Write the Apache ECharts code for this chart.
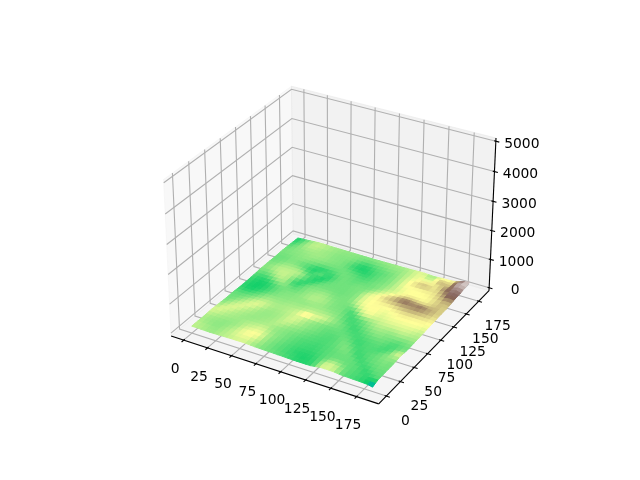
<!DOCTYPE html>
<html><head><meta charset="utf-8">
<style>html,body{margin:0;padding:0;background:#fff}#c{width:640px;height:480px}</style>
<script src="https://cdn.jsdelivr.net/npm/echarts@6/dist/echarts.min.js"></script>
</head><body><div id="c"></div>
<script>
// Relief levels, front edge (y=0) first, x left to right. Elevation in metres = level * 3.2
const relief = [
[43,43,42,41,40,41,42,43,44,45,45,46,45,42,40,38,37,36,35,34,33,31,30,29,29,29,30,36,44,46,45,43,37,34,33,31,30,28,25,14],
[44,43,42,41,40,40,42,43,44,46,47,47,46,43,41,38,37,36,34,33,32,31,30,28,28,29,31,36,45,47,46,43,37,34,33,32,31,29,25,25],
[43,42,41,40,39,40,41,43,45,47,48,49,48,45,42,39,37,35,34,33,31,30,29,28,28,29,31,35,41,45,44,40,36,34,33,32,31,29,31,33],
[42,41,40,39,39,39,41,42,44,47,49,50,50,48,43,39,37,36,34,33,32,30,29,29,29,30,32,34,37,40,39,37,35,34,34,31,29,32,34,35],
[42,41,40,40,39,39,40,41,43,46,48,49,50,48,43,40,38,36,35,33,32,31,31,30,30,31,32,34,35,36,36,35,35,34,33,30,32,34,35,34],
[43,42,41,40,40,39,40,40,42,44,45,46,47,45,42,40,38,37,35,34,33,32,31,31,31,32,33,34,35,35,35,35,35,33,30,32,34,35,36,35],
[45,44,43,42,41,41,40,41,42,43,44,45,46,44,41,39,38,37,36,34,33,32,32,31,31,32,33,34,35,36,36,36,33,30,33,34,35,36,37,36],
[46,46,45,43,42,41,41,40,41,41,42,42,43,42,40,39,38,37,36,35,34,33,33,32,32,33,33,35,36,37,36,33,30,32,33,35,36,37,37,36],
[43,47,46,45,43,42,41,40,40,40,41,41,42,42,41,40,39,38,37,36,35,34,33,33,32,33,34,35,37,38,35,32,31,33,34,35,36,38,38,37],
[41,44,46,47,45,43,42,41,40,40,40,41,41,43,44,42,40,39,39,37,36,35,34,33,33,33,34,36,37,36,33,31,32,33,34,35,37,39,40,39],
[39,41,44,46,47,45,43,42,41,40,40,40,41,42,44,45,43,41,40,38,37,36,35,34,33,33,34,36,36,34,31,32,33,33,32,33,36,38,43,44],
[37,39,42,44,46,47,45,43,41,40,40,40,41,42,44,46,45,43,41,39,38,37,35,34,34,34,35,36,34,32,30,32,33,33,33,31,33,36,47,44],
[36,37,39,42,44,46,48,46,43,41,40,41,41,42,44,46,46,44,41,39,38,37,36,35,35,35,35,34,33,31,32,33,33,34,34,32,32,34,38,40],
[36,36,37,39,42,44,46,47,45,43,41,41,42,43,44,45,47,46,44,42,40,38,37,36,36,35,34,33,31,32,33,34,35,35,35,33,32,33,35,36],
[36,35,36,37,39,42,44,45,44,43,42,42,42,43,44,47,52,56,50,48,46,43,40,38,37,35,33,31,32,33,35,36,37,37,36,35,33,34,36,36],
[35,34,34,35,36,38,40,42,42,41,41,41,42,42,43,43,45,46,45,45,46,43,41,38,36,34,32,30,33,35,37,38,39,38,37,37,36,36,37,38],
[33,31,31,32,34,36,38,40,40,40,40,40,41,41,41,42,43,43,43,42,42,41,39,37,34,32,31,33,35,37,39,40,40,39,39,39,40,39,39,40],
[31,29,28,29,31,33,36,38,38,39,39,39,40,40,40,40,41,41,41,41,40,39,38,36,33,31,33,34,37,39,41,42,42,41,41,42,43,42,42,42],
[30,28,27,27,29,31,33,36,37,38,38,39,39,39,39,40,40,40,40,39,38,38,37,35,32,31,34,36,39,41,43,44,44,44,44,45,45,44,43,42],
[30,28,27,27,28,30,33,35,37,38,38,38,39,40,41,42,41,41,40,38,38,37,37,33,31,36,41,44,44,44,45,46,46,47,47,47,47,46,45,44],
[31,29,27,27,28,30,33,35,36,37,37,38,39,40,42,43,42,42,40,38,37,37,36,33,34,42,47,49,48,46,46,47,48,48,48,48,48,48,47,46],
[32,30,28,28,29,32,35,37,37,36,35,36,38,40,41,42,42,41,39,38,37,37,36,37,42,47,49,50,49,47,48,49,49,49,50,50,50,50,49,48],
[33,31,30,30,33,37,40,40,37,33,34,36,38,39,40,41,41,40,38,37,37,37,38,41,46,49,50,50,50,48,48,49,50,51,51,50,50,50,50,49],
[35,33,33,35,39,42,43,41,33,30,32,35,37,38,38,39,39,38,37,37,37,37,40,45,48,50,50,51,50,49,50,51,52,53,53,53,52,52,52,50],
[37,36,36,39,42,44,44,41,35,30,29,33,36,37,37,37,37,37,36,36,37,37,40,45,48,50,50,51,50,50,52,54,56,58,58,58,57,56,55,52],
[38,38,39,42,44,45,44,42,38,34,30,29,32,35,36,36,36,36,36,36,37,37,40,45,48,50,50,52,54,55,57,60,62,63,64,63,62,60,57,54],
[38,39,41,43,44,44,44,43,41,38,33,29,29,33,35,36,36,36,36,36,37,37,40,45,48,50,52,55,58,60,63,66,67,66,69,70,66,63,60,56],
[38,38,40,42,43,43,43,43,42,36,32,30,27,29,33,35,36,36,36,36,37,37,38,42,46,48,52,56,59,63,68,74,72,68,68,70,64,62,60,56],
[37,37,38,40,41,41,41,40,36,32,31,33,30,28,31,34,36,36,36,36,37,37,37,39,42,45,47,50,54,58,62,64,62,60,58,57,58,60,60,56],
[36,36,37,38,39,39,38,36,33,29,30,35,34,29,31,34,36,36,35,35,36,36,36,37,39,42,45,47,48,51,55,56,55,53,52,53,56,58,60,56],
[35,36,36,37,38,37,36,34,32,29,27,28,29,31,33,36,36,36,35,34,35,35,36,37,38,40,43,45,47,49,50,50,50,50,50,52,56,58,62,58],
[36,36,36,37,38,38,37,36,35,33,32,32,33,34,35,36,36,35,34,33,33,34,36,37,38,40,42,45,47,49,50,50,50,50,51,53,56,60,66,62],
[37,37,37,38,38,39,39,38,38,37,36,36,36,36,36,36,35,34,33,31,32,33,35,36,37,39,42,45,49,50,50,50,50,51,52,55,60,66,74,68],
[37,37,38,38,39,39,40,40,39,39,38,38,37,37,36,35,33,31,30,29,31,33,35,36,37,39,42,45,49,50,51,52,53,54,53,56,62,72,80,72],
[36,37,38,39,39,40,40,41,40,40,39,38,38,37,36,33,30,29,28,29,31,33,34,36,37,39,42,45,49,53,57,60,60,57,54,60,68,76,82,74],
[34,36,38,39,40,41,41,41,41,40,39,38,38,37,36,33,30,28,28,30,32,34,34,36,37,39,42,45,48,50,54,56,55,52,53,62,70,76,86,74],
[32,34,37,40,42,42,42,41,40,40,39,38,38,38,37,35,32,30,30,32,34,35,36,37,38,40,42,44,47,49,50,50,50,53,60,58,64,76,90,82],
[30,32,36,40,43,44,43,42,41,40,39,39,38,38,38,37,35,34,34,35,36,37,38,39,39,40,42,44,46,48,48,44,48,56,64,56,60,84,94,86],
[28,30,34,39,42,44,44,43,42,41,40,39,39,39,38,38,37,37,37,38,38,39,39,40,40,41,42,44,47,48,46,40,46,52,54,50,58,78,90,94],
[28,30,33,37,41,43,43,42,41,40,40,40,39,39,39,38,38,38,38,39,39,40,40,41,41,42,43,45,46,46,44,41,43,46,46,48,54,70,84,92]
];
const xTicks = [0,25,50,75,100,125,150,175];
const yTicks = [0,25,50,75,100,125,150,175];
const zTicks = [0,1000,2000,3000,4000,5000];
const dataExtent = 183;
const metresPerLevel = 3.2;

// axis limits: 5% margin, as in the reference
const viewLo = -0.05*dataExtent, viewHi = 1.05*dataExtent;
const pad = (viewHi-viewLo)/48;
const lo = {x:viewLo-pad, y:viewLo-pad, z:-5000/48};
const hi = {x:viewHi+pad, y:viewHi+pad, z:5000+5000/48};
const delta = {x:(viewHi-viewLo)/12, y:(viewHi-viewLo)/12, z:5000/12};

// 3D projection: elev 30, azim -60, dist 10, box 4:4:3
const nrm = 1.8294640721620434*25/24/Math.sqrt(41);
const box = [4*nrm,4*nrm,3*nrm];
const el = 30*Math.PI/180, az = -60*Math.PI/180, dist = 10;
const n = [Math.cos(el)*Math.cos(az), Math.cos(el)*Math.sin(az), Math.sin(el)];
const E = [box[0]/2+dist*n[0], box[1]/2+dist*n[1], box[2]/2+dist*n[2]];
const uu = [-n[1],n[0],0].map(v=>v/Math.hypot(n[0],n[1]));
const vv = [n[1]*uu[2]-n[2]*uu[1], n[2]*uu[0]-n[0]*uu[2], n[0]*uu[1]-n[1]*uu[0]];
const dot=(a,b)=>a[0]*b[0]+a[1]*b[1]+a[2]*b[2];
function project(x,y,z){
  const p=[(x-lo.x)/(hi.x-lo.x)*box[0]-E[0],(y-lo.y)/(hi.y-lo.y)*box[1]-E[1],(z-lo.z)/(hi.z-lo.z)*box[2]-E[2]];
  const w=-dot(n,p), X=dot(uu,p)/w, Y=dot(vv,p)/w;
  return [143.2+(X+0.095)/0.185*369.6, 480-(52.8+(Y+0.095)/0.185*369.6)];
}

// terrain colormap
const stops=[[0,[51,51,153]],[.15,[0,153,255]],[.25,[0,204,102]],[.5,[255,255,153]],[.75,[128,92,84]],[1,[255,255,255]]];
function terrain(t){
  t=Math.max(0,Math.min(1,t));
  for(let k=1;k<stops.length;k++) if(t<=stops[k][0]){
    const a=stops[k-1],b=stops[k],f=(t-a[0])/(b[0]-a[0]);
    return 'rgb('+a[1].map((c,m)=>Math.round(c+(b[1][m]-c)*f)).join(',')+')';
  }
  return '#fff';
}

const NX=relief[0].length, NY=relief.length;
const xAt=i=>i/(NX-1)*dataExtent, yAt=j=>j/(NY-1)*dataExtent;

// surface quads, far ones first
const quads=[];
for(let j=NY-2;j>=0;j--) for(let i=0;i<NX-1;i++) quads.push([i,j]);

function polyItem(api,pts,style){
  return {type:'polygon',shape:{points:pts.map(p=>api.coord(p))},style:style,silent:true};
}
function lineItem(api,pts,color,w){
  return {type:'polyline',shape:{points:pts.map(p=>api.coord(p))},style:{stroke:color,lineWidth:w,fill:null},silent:true};
}

const paneFaces=[
 {pts:[[lo.x,lo.y,hi.z],[lo.x,hi.y,hi.z],[lo.x,hi.y,lo.z],[lo.x,lo.y,lo.z]],c:'rgba(242,242,242,0.5)'},
 {pts:[[lo.x,hi.y,hi.z],[hi.x,hi.y,hi.z],[hi.x,hi.y,lo.z],[lo.x,hi.y,lo.z]],c:'rgba(230,230,230,0.5)'},
 {pts:[[lo.x,lo.y,lo.z],[lo.x,hi.y,lo.z],[hi.x,hi.y,lo.z],[hi.x,lo.y,lo.z]],c:'rgba(236,236,236,0.5)'}
];
const gridPaths=[];
xTicks.forEach(t=>gridPaths.push([[t,lo.y,lo.z],[t,hi.y,lo.z],[t,hi.y,hi.z]]));
yTicks.forEach(t=>gridPaths.push([[hi.x,t,lo.z],[lo.x,t,lo.z],[lo.x,t,hi.z]]));
zTicks.forEach(t=>gridPaths.push([[lo.x,lo.y,t],[lo.x,hi.y,t],[hi.x,hi.y,t]]));

const axisPaths=[
 [[lo.x,lo.y,lo.z],[hi.x,lo.y,lo.z]],
 [[hi.x,lo.y,lo.z],[hi.x,hi.y,lo.z]],
 [[hi.x,hi.y,lo.z],[hi.x,hi.y,hi.z]]
];
xTicks.forEach(t=>axisPaths.push([[t,lo.y+0.1*delta.y,lo.z],[t,lo.y-0.2*delta.y,lo.z]]));
yTicks.forEach(t=>axisPaths.push([[hi.x-0.1*delta.x,t,lo.z],[hi.x+0.2*delta.x,t,lo.z]]));
zTicks.forEach(t=>axisPaths.push([[hi.x-0.1*delta.x,hi.y,t],[hi.x+0.2*delta.x,hi.y,t]]));

const labels=[];
xTicks.forEach(t=>{const p=project(t,lo.y,lo.z);labels.push([String(t),p[0]-8.5,p[1]+29]);});
yTicks.forEach(t=>{const p=project(hi.x,t,lo.z);labels.push([String(t),p[0]+19,p[1]+25]);});
zTicks.forEach(t=>{const p=project(hi.x,hi.y,t);labels.push([String(t),p[0]+26,p[1]+3]);});

const base={type:'custom',coordinateSystem:'cartesian2d',animation:false,silent:true,clip:false,encode:{x:0,y:1}};
const chart=echarts.init(document.getElementById('c'),null,{renderer:'canvas'});
chart.setOption({
  animation:false,
  backgroundColor:'#fff',
  grid:{left:0,right:0,top:0,bottom:0},
  xAxis:{type:'value',min:0,max:640,show:false},
  yAxis:{type:'value',min:0,max:480,inverse:true,show:false},
  series:[
   Object.assign({},base,{z:1,data:paneFaces.map((_,k)=>[k,k]),renderItem:(p,api)=>{
     const f=paneFaces[api.value(0)];
     return polyItem(api,f.pts.map(q=>project(...q)),{fill:f.c,stroke:f.c,lineWidth:1});
   }}),
   Object.assign({},base,{z:2,data:gridPaths.map((_,k)=>[k,k]),renderItem:(p,api)=>
     lineItem(api,gridPaths[api.value(0)].map(q=>project(...q)),'#b0b0b0',1.11)}),
   Object.assign({},base,{z:3,data:axisPaths.map((_,k)=>[k,k]),renderItem:(p,api)=>
     lineItem(api,axisPaths[api.value(0)].map(q=>project(...q)),'#000',1.11)}),
   Object.assign({},base,{z:4,progressive:0,data:quads,renderItem:(p,api)=>{
     const i=api.value(0),j=api.value(1);
     const c=[[i,j],[i+1,j],[i+1,j+1],[i,j+1]];
     const vals=c.map(q=>relief[q[1]][q[0]]);
     const col=terrain((vals[0]+vals[1]+vals[2]+vals[3])/400);
     return polyItem(api,c.map((q,k)=>project(xAt(q[0]),yAt(q[1]),vals[k]*metresPerLevel)),{fill:col,stroke:col,lineWidth:1});
   }}),
   Object.assign({},base,{z:5,data:labels.map((l,k)=>[l[1],l[2],k]),renderItem:(p,api)=>{
     const l=labels[api.value(2)], c=api.coord([l[1],l[2]]);
     return {type:'text',silent:true,style:{text:l[0],x:c[0],y:c[1],align:'center',verticalAlign:'middle',fill:'#000',font:'13.89px "DejaVu Sans"'}};
   }})
  ]
});
</script></body></html>
